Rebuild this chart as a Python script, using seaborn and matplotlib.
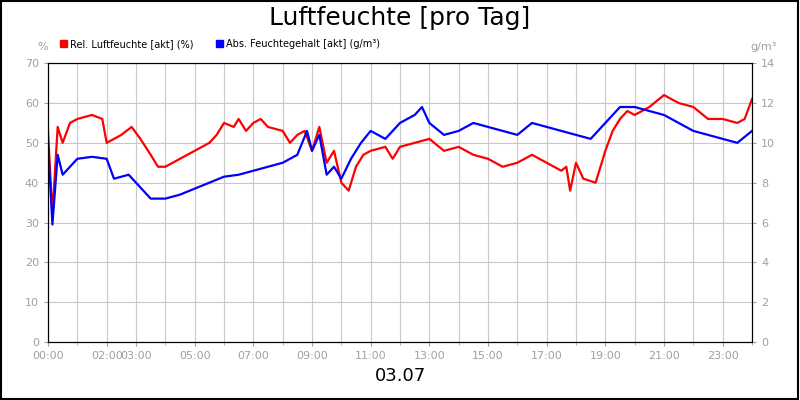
import numpy as np
import pandas as pd
import matplotlib
matplotlib.use("Agg")
import matplotlib.pyplot as plt
import seaborn as sns

# relative humidity (%), time in hours
rel_t = [0, 0.15, 0.33, 0.5, 0.75, 1.0, 1.5, 1.85, 2.0, 2.5, 2.85, 3.15, 3.5, 3.75, 4.0, 4.5,
         5.0, 5.5, 5.75, 6.0, 6.33, 6.5, 6.75, 7.0, 7.25, 7.5, 8.0, 8.25, 8.5, 8.75, 9.0, 9.25,
         9.5, 9.75, 10.0, 10.25, 10.5, 10.75, 11.0, 11.5, 11.75, 12.0, 12.5, 13.0, 13.5, 14.0,
         14.5, 15.0, 15.5, 16.0, 16.5, 17.0, 17.5, 17.67, 17.8, 18.0, 18.25, 18.67, 19.0, 19.25,
         19.5, 19.75, 20.0, 20.5, 21.0, 21.25, 21.5, 22.0, 22.5, 23.0, 23.5, 23.75, 24.0]
rel_v = [53, 32, 54, 50, 55, 56, 57, 56, 50, 52, 54, 51, 47, 44, 44, 46,
         48, 50, 52, 55, 54, 56, 53, 55, 56, 54, 53, 50, 52, 53, 48, 54,
         45, 48, 40, 38, 44, 47, 48, 49, 46, 49, 50, 51, 48, 49,
         47, 46, 44, 45, 47, 45, 43, 44, 38, 45, 41, 40, 48, 53,
         56, 58, 57, 59, 62, 61, 60, 59, 56, 56, 55, 56, 61]

# absolute humidity (g/m³)
abs_t = [0, 0.15, 0.33, 0.5, 1.0, 1.5, 2.0, 2.25, 2.75, 3.0, 3.5, 4.0, 4.5, 5.0, 5.5, 6.0,
         6.5, 7.0, 7.5, 8.0, 8.5, 8.83, 9.0, 9.25, 9.5, 9.75, 10.0, 10.33, 10.67, 11.0, 11.5,
         12.0, 12.5, 12.75, 13.0, 13.5, 14.0, 14.5, 15.0, 15.5, 16.0, 16.5, 17.0, 17.5, 18.0,
         18.5, 18.75, 19.0, 19.5, 20.0, 20.5, 21.0, 21.5, 22.0, 22.5, 23.0, 23.5, 24.0]
abs_v = [10.0, 5.9, 9.4, 8.4, 9.2, 9.3, 9.2, 8.2, 8.4, 8.0, 7.2, 7.2, 7.4, 7.7, 8.0, 8.3,
         8.4, 8.6, 8.8, 9.0, 9.4, 10.6, 9.6, 10.4, 8.4, 8.8, 8.2, 9.2, 10.0, 10.6, 10.2,
         11.0, 11.4, 11.8, 11.0, 10.4, 10.6, 11.0, 10.8, 10.6, 10.4, 11.0, 10.8, 10.6, 10.4,
         10.2, 10.6, 11.0, 11.8, 11.8, 11.6, 11.4, 11.0, 10.6, 10.4, 10.2, 10.0, 10.6]

tick_hours = [0, 2, 3, 5, 7, 9, 11, 13, 15, 17, 19, 21, 23]
tick_labels = ["%02d:00" % h for h in tick_hours]

rel_df = pd.DataFrame({"t": rel_t, "v": rel_v})
abs_df = pd.DataFrame({"t": abs_t, "v": abs_v})

fig = plt.figure(figsize=(8, 4), dpi=100)
ax = fig.add_axes([0.06, 0.145, 0.88, 0.697])
ax2 = ax.twinx()
grey = "#a0a0a0"

sns.lineplot(data=rel_df, x="t", y="v", color="red", lw=1.6, ax=ax)
sns.lineplot(data=abs_df, x="t", y="v", color="blue", lw=1.6, ax=ax2)

ax.set_xlim(0, 24)
ax.set_ylim(0, 70)
ax2.set_ylim(0, 14)
ax.set_yticks(range(0, 71, 10))
ax2.set_yticks(range(0, 15, 2))
ax.set_xticks(tick_hours)
ax.set_xticklabels(tick_labels)
ax.set_xticks(range(25), minor=True)
ax.grid(True, which="both", color="#c8c8c8", lw=0.8)
ax.set_axisbelow(True)
ax2.set_zorder(ax.get_zorder() + 1)
ax.set_zorder(0)
ax2.patch.set_visible(False)
ax.set_xlabel("")
ax.set_ylabel("")
ax2.set_ylabel("")
for a in (ax, ax2):
    a.tick_params(colors=grey, labelsize=8, length=3, which="both")
    for s in a.spines.values():
        s.set_color("black")
ax.tick_params(axis="x", which="minor", length=2)

fig.text(0.5, 0.955, "Luftfeuchte [pro Tag]", ha="center", va="center", fontsize=18)
fig.text(0.5, 0.06, "03.07", ha="center", va="center", fontsize=13)
fig.text(0.053, 0.875, "%", color=grey, fontsize=8, ha="center")
fig.text(0.955, 0.875, "g/m³", color=grey, fontsize=8, ha="center")

fig.patches.append(plt.Rectangle((0.075, 0.883), 0.009, 0.018, color="red", transform=fig.transFigure))
fig.text(0.088, 0.89, "Rel. Luftfeuchte [akt] (%)", fontsize=7, va="center")
fig.patches.append(plt.Rectangle((0.27, 0.883), 0.009, 0.018, color="blue", transform=fig.transFigure))
fig.text(0.283, 0.89, "Abs. Feuchtegehalt [akt] (g/m³)", fontsize=7, va="center")
fig.patches.append(plt.Rectangle((0.001, 0.002), 0.997, 0.995, fill=False, ec="black", lw=1.5, transform=fig.transFigure))

fig.savefig("out.png", dpi=100)
